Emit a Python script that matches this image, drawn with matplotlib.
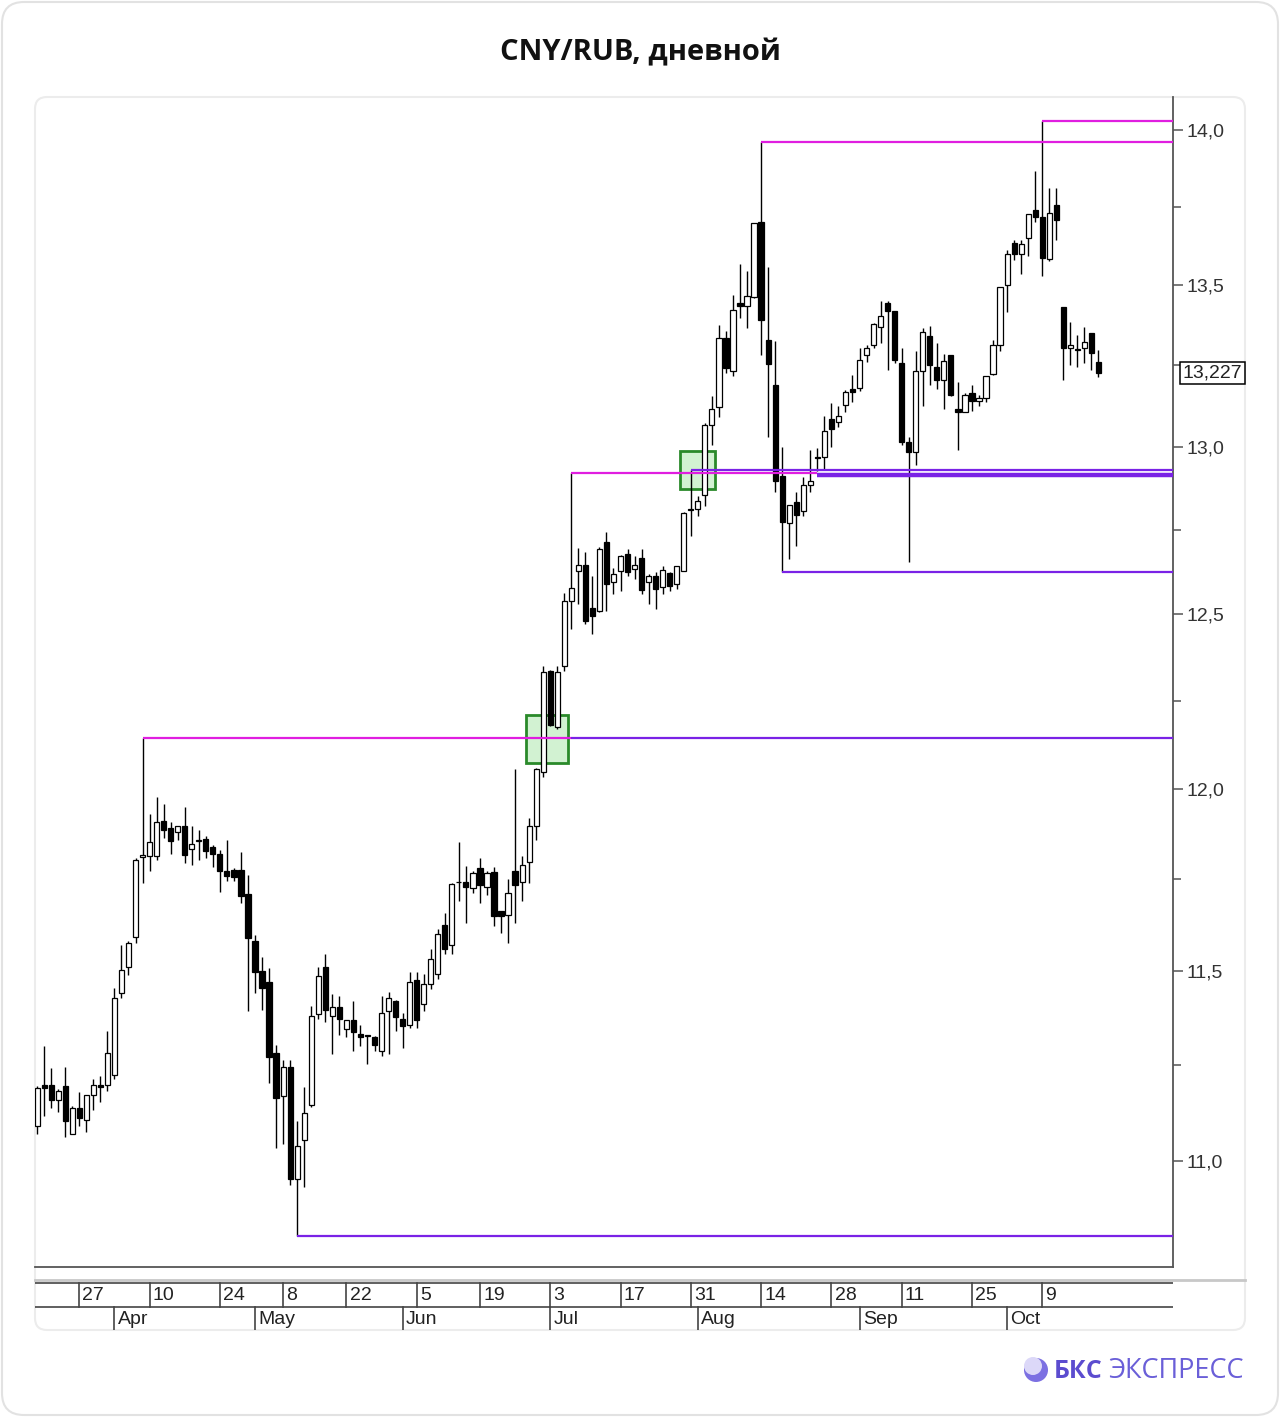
import numpy as np
import pandas as pd
import matplotlib
matplotlib.use("Agg")
import matplotlib.pyplot as plt
from matplotlib.patches import FancyBboxPatch, Rectangle, Circle
from matplotlib.ticker import FixedLocator, FixedFormatter, NullFormatter
from matplotlib.transforms import blended_transform_factory

# trading days (MOEX holidays removed)
holidays = ["2023-05-01", "2023-05-09", "2023-06-12"]
dates = pd.bdate_range("2023-03-17", "2023-10-19")
dates = dates[~dates.isin(pd.to_datetime(holidays))]

opens = [11.090, 11.198, 11.198, 11.159, 11.196, 11.071, 11.137, 11.106, 11.172, 11.198,
         11.198, 11.225, 11.442, 11.511, 11.591, 11.810, 11.813, 11.813, 11.912, 11.890,
         11.879, 11.896, 11.832, 11.854, 11.860, 11.838, 11.819, 11.772, 11.775, 11.775,
         11.709, 11.582, 11.500, 11.471, 11.283, 11.169, 11.246, 10.954, 11.055, 11.145,
         11.384, 11.511, 11.381, 11.405, 11.344, 11.370, 11.331, 11.329, 11.325, 11.288,
         11.394, 11.421, 11.373, 11.357, 11.476, 11.413, 11.466, 11.492, 11.624, 11.571,
         11.743, 11.742, 11.725, 11.780, 11.728, 11.769, 11.662, 11.651, 11.772, 11.742,
         11.797, 11.898, 12.049, 12.337, 12.174, 12.351, 12.539, 12.628, 12.646, 12.518,
         12.509, 12.714, 12.595, 12.628, 12.679, 12.634, 12.667, 12.595, 12.613, 12.580,
         12.622, 12.589, 12.628, 12.811, 12.813, 12.854, 13.066, 13.122, 13.334, 13.231,
         13.444, 13.434, 13.463, 13.701, 13.328, 13.188, 12.911, 12.771, 12.833, 12.807,
         12.884, 12.970, 12.970, 13.084, 13.075, 13.128, 13.178, 13.181, 13.281, 13.313,
         13.369, 13.444, 13.419, 13.256, 13.016, 12.985, 13.231, 13.341, 13.244, 13.206,
         13.281, 13.116, 13.106, 13.166, 13.141, 13.150, 13.222, 13.313, 13.500, 13.634,
         13.599, 13.650, 13.739, 13.717, 13.583, 13.755, 13.431, 13.303, 13.301, 13.303,
         13.350, 13.259]
highs = [11.196, 11.299, 11.243, 11.188, 11.246, 11.143, 11.180, 11.172, 11.214, 11.222,
         11.339, 11.455, 11.571, 11.580, 11.808, 12.143, 11.931, 11.978, 11.959, 11.909,
         11.896, 11.951, 11.896, 11.885, 11.868, 11.843, 11.830, 11.857, 11.780, 11.824,
         11.761, 11.596, 11.539, 11.508, 11.304, 11.262, 11.262, 11.103, 11.193, 11.407,
         11.511, 11.547, 11.439, 11.434, 11.370, 11.421, 11.357, 11.330, 11.326, 11.434,
         11.444, 11.422, 11.389, 11.497, 11.497, 11.492, 11.560, 11.613, 11.657, 11.739,
         11.852, 11.786, 11.772, 11.808, 11.772, 11.783, 11.663, 11.750, 12.057, 11.813,
         11.918, 12.060, 12.349, 12.338, 12.349, 12.563, 12.920, 12.696, 12.685, 12.613,
         12.699, 12.744, 12.637, 12.674, 12.693, 12.673, 12.693, 12.619, 12.625, 12.643,
         12.625, 12.644, 12.804, 12.929, 12.851, 13.072, 13.156, 13.375, 13.356, 13.469,
         13.567, 13.545, 13.698, 13.959, 13.557, 13.325, 13.000, 12.825, 12.863, 12.908,
         12.991, 12.997, 13.094, 13.134, 13.125, 13.175, 13.219, 13.303, 13.313, 13.381,
         13.450, 13.450, 13.420, 13.303, 13.031, 13.294, 13.366, 13.372, 13.319, 13.284,
         13.282, 13.197, 13.163, 13.188, 13.159, 13.217, 13.328, 13.495, 13.611, 13.643,
         13.643, 13.727, 13.866, 14.029, 13.812, 13.812, 13.432, 13.384, 13.344, 13.369,
         13.351, 13.297]
lows = [11.069, 11.116, 11.137, 11.127, 11.061, 11.069, 11.090, 11.074, 11.132, 11.153,
        11.182, 11.214, 11.429, 11.489, 11.577, 11.739, 11.772, 11.802, 11.863, 11.819,
        11.857, 11.794, 11.788, 11.802, 11.808, 11.783, 11.714, 11.745, 11.745, 11.684,
        11.392, 11.442, 11.397, 11.204, 11.034, 11.045, 10.939, 10.810, 10.934, 11.140,
        11.373, 11.365, 11.280, 11.328, 11.325, 11.286, 11.299, 11.254, 11.288, 11.275,
        11.280, 11.339, 11.296, 11.347, 11.347, 11.394, 11.452, 11.479, 11.547, 11.547,
        11.690, 11.629, 11.712, 11.684, 11.706, 11.621, 11.602, 11.577, 11.629, 11.690,
        11.739, 11.857, 12.034, 12.177, 12.169, 12.337, 12.457, 12.530, 12.471, 12.443,
        12.506, 12.509, 12.560, 12.568, 12.613, 12.604, 12.560, 12.530, 12.515, 12.560,
        12.568, 12.574, 12.628, 12.732, 12.792, 12.821, 13.006, 13.091, 13.225, 13.216,
        13.397, 13.366, 13.459, 13.281, 13.031, 12.863, 12.625, 12.664, 12.702, 12.792,
        12.863, 12.926, 12.932, 13.000, 13.059, 13.106, 13.138, 13.172, 13.259, 13.303,
        13.319, 13.234, 13.256, 13.006, 12.655, 12.946, 13.125, 13.188, 13.178, 13.116,
        13.156, 12.991, 13.105, 13.109, 13.125, 13.138, 13.219, 13.294, 13.416, 13.580,
        13.535, 13.592, 13.701, 13.529, 13.576, 13.643, 13.206, 13.250, 13.244, 13.256,
        13.234, 13.213]
closes = [11.190, 11.190, 11.159, 11.182, 11.103, 11.137, 11.111, 11.172, 11.198, 11.193,
          11.283, 11.429, 11.503, 11.577, 11.802, 11.816, 11.852, 11.909, 11.885, 11.854,
          11.896, 11.816, 11.846, 11.857, 11.827, 11.819, 11.772, 11.758, 11.755, 11.703,
          11.588, 11.497, 11.455, 11.270, 11.164, 11.246, 10.954, 11.040, 11.124, 11.381,
          11.487, 11.397, 11.405, 11.373, 11.370, 11.336, 11.325, 11.327, 11.302, 11.389,
          11.429, 11.378, 11.352, 11.471, 11.368, 11.466, 11.533, 11.599, 11.560, 11.736,
          11.741, 11.728, 11.767, 11.734, 11.767, 11.648, 11.648, 11.712, 11.734, 11.788,
          11.898, 12.057, 12.334, 12.180, 12.334, 12.539, 12.577, 12.646, 12.480, 12.497,
          12.693, 12.589, 12.619, 12.673, 12.625, 12.646, 12.571, 12.613, 12.574, 12.631,
          12.583, 12.643, 12.801, 12.809, 12.836, 13.066, 13.116, 13.334, 13.241, 13.422,
          13.434, 13.466, 13.697, 13.391, 13.253, 12.896, 12.774, 12.824, 12.795, 12.884,
          12.896, 12.967, 13.047, 13.053, 13.094, 13.169, 13.169, 13.266, 13.303, 13.378,
          13.403, 13.419, 13.266, 13.013, 12.985, 13.231, 13.353, 13.250, 13.206, 13.263,
          13.159, 13.106, 13.159, 13.141, 13.150, 13.216, 13.313, 13.494, 13.599, 13.599,
          13.631, 13.726, 13.717, 13.586, 13.732, 13.707, 13.303, 13.313, 13.299, 13.322,
          13.288, 13.227]

last_price = 13.227

# horizontal levels: resistance (magenta) and support (purple)
res_prices = [12.143, 12.920, 13.959, 14.029]
res_start = ["2023-04-07", "2023-07-06", "2023-08-14", "2023-10-09"]
res_end = ["2023-07-06", "2023-08-24", None, None]
sup_prices = [12.143, 12.914, 12.929, 12.625, 10.810]
sup_start = ["2023-07-06", "2023-08-24", "2023-07-31", "2023-08-17", "2023-05-11"]
sup_lw = [1.6, 3.2, 1.6, 1.6, 1.6]

# breakout boxes
box_start = ["2023-06-28", "2023-07-28"]
box_end = ["2023-07-05", "2023-08-03"]
box_low = [12.074, 12.872]
box_high = [12.209, 12.986]

yticks = [11.0, 11.5, 12.0, 12.5, 13.0, 13.5, 14.0]
ytick_labels = ["11,0", "11,5", "12,0", "12,5", "13,0", "13,5", "14,0"]
yminor = [11.25, 11.75, 12.25, 12.75, 13.25, 13.75]

week_ticks = ["2023-03-27", "2023-04-10", "2023-04-24", "2023-05-08", "2023-05-22",
              "2023-06-05", "2023-06-19", "2023-07-03", "2023-07-17", "2023-07-31",
              "2023-08-14", "2023-08-28", "2023-09-11", "2023-09-25", "2023-10-09"]
month_ticks = ["2023-04-03", "2023-05-02", "2023-06-01", "2023-07-03",
               "2023-08-01", "2023-09-01", "2023-10-02"]
month_labels = ["Apr", "May", "Jun", "Jul", "Aug", "Sep", "Oct"]

pos = {d: i for i, d in enumerate(dates)}
def ix(s):
    return pos[pd.Timestamp(s)]

n = len(dates)
x = np.arange(n)
o = np.array(opens); h = np.array(highs); l = np.array(lows); c = np.array(closes)
up = c >= o

W, H = 1280, 1417
fig = plt.figure(figsize=(W / 100, H / 100), dpi=100)
fig.patch.set_facecolor("white")

# background layer in pixel coords
bg = fig.add_axes([0, 0, 1, 1], zorder=0)
bg.set_xlim(0, W); bg.set_ylim(H, 0); bg.axis("off")
bg.add_patch(FancyBboxPatch((2, 2), W - 4, H - 4, boxstyle="round,pad=0,rounding_size=22",
                            fc="white", ec="#e2e2e2", lw=1.5))
bg.add_patch(FancyBboxPatch((35, 97), 1210, 1233, boxstyle="round,pad=0,rounding_size=12",
                            fc="white", ec="#ececec", lw=1.5))
bg.text(640, 53, "CNY/RUB, дневной", ha="center", va="center", fontsize=21,
        fontweight="bold", family=["Open Sans", "DejaVu Sans"], color="#111111")
bg.plot([35, 1245], [1280, 1280], color="#c8c8c8", lw=2)

# logo
bg.add_patch(Circle((1036, 1370), 12, fc="#7c70e2", ec="none"))
bg.add_patch(Circle((1033, 1366), 9, fc="#dcd8f8", ec="none"))
bg.text(1054, 1371, "БКС", ha="left", va="center", fontsize=18, fontweight="bold",
        family=["Open Sans", "DejaVu Sans"], color="#5b4ccf")
bg.text(1108, 1371, "ЭКСПРЕСС", ha="left", va="center", fontsize=19.5,
        family=["Open Sans", "DejaVu Sans"], color="#6a5fd8")

xl = (-0.3, 161.6)
ax = fig.add_axes([35 / W, (H - 1267) / H, (1173 - 35) / W, (1267 - 97) / H], zorder=2)
ax.patch.set_alpha(0)
ax.set_yscale("log")
ax.set_xlim(*xl)
ax.set_ylim(10.731, 14.108)

# candles
ax.vlines(x, l, h, color="black", lw=1.0, zorder=3)
bottom = np.minimum(o, c)
height = np.maximum(np.abs(c - o), 0.002)
ax.bar(x, height, bottom=bottom, width=0.74, color=np.where(up, "white", "black"),
       edgecolor="black", linewidth=0.9, zorder=4)

magenta = "#e01ee0"
purple = "#7a22e6"
for p, s, e in zip(res_prices, res_start, res_end):
    ax.hlines(p, ix(s), ix(e) if e else xl[1], color=magenta, lw=1.6, zorder=5)
for p, s, w in zip(sup_prices, sup_start, sup_lw):
    ax.hlines(p, ix(s), xl[1], color=purple, lw=w, zorder=5)

for s, e, lo, hi in zip(box_start, box_end, box_low, box_high):
    x0, x1 = ix(s) - 0.5, ix(e) + 0.5
    ax.add_patch(Rectangle((x0, lo), x1 - x0, hi - lo, fc="#d2f2d2", ec="#2a8a2a",
                           lw=2, zorder=2))

for side in ["left", "top"]:
    ax.spines[side].set_visible(False)
for side in ["right", "bottom"]:
    ax.spines[side].set_color("#555555")
    ax.spines[side].set_linewidth(1.3)
ax.set_xticks([])
ax.yaxis.tick_right()
ax.yaxis.set_major_locator(FixedLocator(yticks))
ax.yaxis.set_major_formatter(FixedFormatter(ytick_labels))
ax.yaxis.set_minor_locator(FixedLocator(yminor))
ax.yaxis.set_minor_formatter(NullFormatter())
ax.tick_params(axis="y", which="major", length=7, width=1.1, color="#555555", pad=3,
               labelsize=14, labelcolor="#333333")
ax.tick_params(axis="y", which="minor", length=6, width=1.1, color="#555555")
for t in ax.get_yticklabels():
    t.set_family("Liberation Sans")

tr = blended_transform_factory(ax.transAxes, ax.transData)
ax.text(1.0085, last_price, f"{last_price:.3f}".replace(".", ","), transform=tr,
        ha="left", va="center", fontsize=14, family="Liberation Sans", color="#222222",
        bbox=dict(boxstyle="square,pad=0.12", fc="white", ec="black", lw=1.1),
        clip_on=False, zorder=6)

# date strip
ax2 = fig.add_axes([35 / W, (H - 1330) / H, (1173 - 35) / W, (1330 - 1278) / H], zorder=2)
ax2.set_xlim(*xl)
ax2.set_ylim(1330, 1278)
ax2.axis("off")
ax2.plot(xl, [1283, 1283], color="#444444", lw=1.2)
ax2.plot(xl, [1307, 1307], color="#444444", lw=1.2)
for d in week_ticks:
    i = ix(d)
    ax2.plot([i, i], [1283, 1307], color="#444444", lw=1.2)
    ax2.text(i + 0.45, 1296, str(pd.Timestamp(d).day), ha="left", va="center",
             fontsize=14, family="Liberation Sans", color="#222222")
for d, lab in zip(month_ticks, month_labels):
    i = ix(d)
    ax2.plot([i, i], [1307, 1330], color="#444444", lw=1.2)
    ax2.text(i + 0.45, 1320, lab, ha="left", va="center",
             fontsize=14, family="Liberation Sans", color="#222222")

fig.savefig("out.png", dpi=100)
